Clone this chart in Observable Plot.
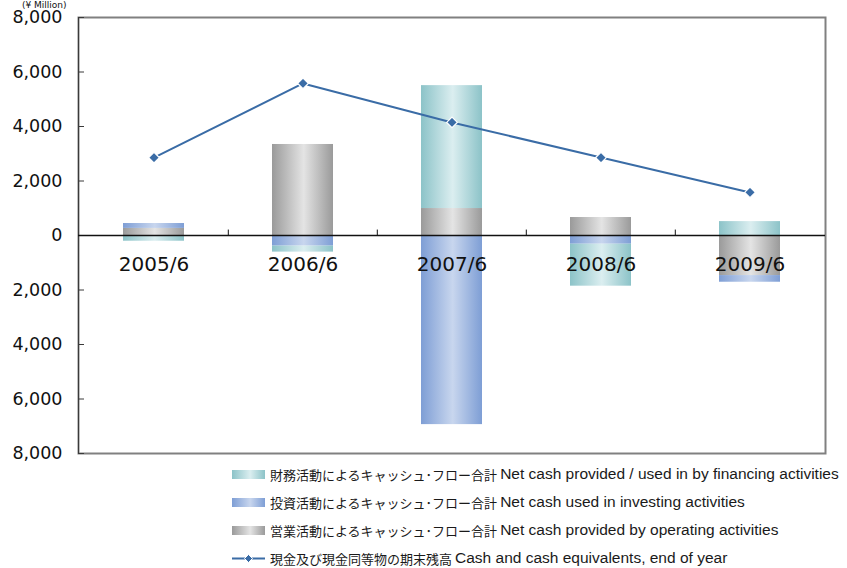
<!DOCTYPE html>
<html>
<head>
<meta charset="utf-8">
<script src="https://cdn.jsdelivr.net/npm/d3@7"></script>
<script src="https://cdn.jsdelivr.net/npm/@observablehq/plot@0.6"></script>
<style>
  body { margin: 0; background: #fff; }
  #chart svg { overflow: visible; display: block; }
  #legend { margin-left: 232px; font-family: "Liberation Sans", "Noto Sans CJK JP", sans-serif; font-size: 15.5px; color: #1a1a1a; }
  .row { height: 28px; display: flex; align-items: center; white-space: nowrap; }
  .sw { width: 33px; height: 9px; margin-right: 5px; flex: none; }
  .sw svg { display: block; }
  .jp { font-family: "Noto Sans CJK JP", sans-serif; font-size: 13px; margin-right: 3px; }
</style>
</head>
<body>
<div id="chart"></div>
<div id="legend"></div>
<script>
// ---- data (¥ Million) ----
const categories = ["2005/6", "2006/6", "2007/6", "2008/6", "2009/6"];
const operating = [260, 3340, 990, 660, -1470];
const investing = [180, -390, -6940, -320, -245];
const financing = [-210, -220, 4510, -1540, 510];
const cashEnd = [2860, 5580, 4150, 2860, 1580];
const yTicks = [-8000, -6000, -4000, -2000, 0, 2000, 4000, 6000, 8000];
const seriesKeys = ["operating", "investing", "financing"];
const seriesLabelsJa = {
  financing: "財務活動によるキャッシュ･フロー合計",
  investing: "投資活動によるキャッシュ･フロー合計",
  operating: "営業活動によるキャッシュ･フロー合計",
  cash: "現金及び現金同等物の期末残高"
};
const seriesLabelsEn = {
  financing: "Net cash provided / used in by financing activities",
  investing: "Net cash used in investing activities",
  operating: "Net cash provided by operating activities",
  cash: "Cash and cash equivalents, end of year"
};
const unitLabel = "(¥ Million)";

const gradColors = {
  financing: ["#8cc3c8", "#dbeef0"],
  investing: ["#7e9ed5", "#c8d6ee"],
  operating: ["#9a9a9a", "#e4e4e4"]
};
const lineColor = "#3a6ca6";

// ---- build tables ----
const flows = [];
categories.forEach((c, i) => {
  flows.push({cat: c, key: "operating", value: operating[i]});
  flows.push({cat: c, key: "investing", value: investing[i]});
  flows.push({cat: c, key: "financing", value: financing[i]});
});
const cash = categories.map((c, i) => ({cat: c, value: cashEnd[i]}));

const W = 847, H = 460, mL = 78, mR = 22;
const step = (W - mL - mR) / categories.length;
const fmt = d3.format(",");

const chart = Plot.plot({
  width: W,
  height: H,
  marginLeft: mL,
  marginRight: mR,
  marginTop: 17,
  marginBottom: 7,
  style: {fontFamily: "DejaVu Sans, sans-serif", fontSize: "17px", background: "white", color: "#111", overflow: "visible"},
  x: {domain: categories, paddingInner: 0.59, paddingOuter: 0.295, axis: null},
  y: {domain: [-8000, 8000], axis: null},
  color: {type: "ordinal", domain: seriesKeys, range: seriesKeys.map(k => `url(#grad-${k})`)},
  marks: [
    Plot.barY(flows, Plot.stackY({x: "cat", y: "value", fill: "key", order: null})),
    Plot.frame({stroke: "#808080", strokeWidth: 2}),
    Plot.frame({anchor: "left", stroke: "#3a3a3a", strokeWidth: 1}),
    Plot.axisY(yTicks, {tickSize: -6, tickPadding: 22, tickFormat: d => fmt(Math.abs(d)), stroke: "#3a3a3a", label: null, fontSize: 17.5}),
    Plot.ruleY([0], {stroke: "#111", strokeWidth: 1.5}),
    Plot.ruleX(categories.slice(1), {x: d => d, y1: 0, y2: 200, dx: -step / 2, stroke: "#111", strokeWidth: 1}),
    Plot.text(categories, {x: d => d, y: 0, dy: 29, text: d => d, fontSize: 20, fill: "#111"}),
    Plot.lineY(cash, {x: "cat", y: "value", stroke: lineColor, strokeWidth: 2}),
    Plot.dot(cash, {x: "cat", y: "value", symbol: "diamond2", r: 4.8, fill: lineColor, stroke: "white", strokeWidth: 1.2}),
    Plot.text([unitLabel], {frameAnchor: "top-left", dx: -12, dy: -10, textAnchor: "end", lineAnchor: "bottom", fontSize: 9, fill: "#111"})
  ]
});

// gradient defs
const ns = "http://www.w3.org/2000/svg";
const defs = document.createElementNS(ns, "defs");
for (const k of seriesKeys) {
  const g = document.createElementNS(ns, "linearGradient");
  g.setAttribute("id", `grad-${k}`);
  g.setAttribute("x1", "0"); g.setAttribute("x2", "1"); g.setAttribute("y1", "0"); g.setAttribute("y2", "0");
  [[0, 0], [0.52, 1], [1, 0]].forEach(([o, c]) => {
    const s = document.createElementNS(ns, "stop");
    s.setAttribute("offset", o);
    s.setAttribute("stop-color", gradColors[k][c]);
    g.appendChild(s);
  });
  defs.appendChild(g);
}
chart.insertBefore(defs, chart.firstChild);
document.getElementById("chart").appendChild(chart);

// legend
const legend = document.getElementById("legend");
function addRow(k, swatch) {
  const row = document.createElement("div");
  row.className = "row";
  row.appendChild(swatch);
  const ja = document.createElement("span");
  ja.className = "jp";
  ja.textContent = seriesLabelsJa[k];
  row.appendChild(ja);
  const en = document.createElement("span");
  en.textContent = seriesLabelsEn[k];
  row.appendChild(en);
  legend.appendChild(row);
}
for (const k of ["financing", "investing", "operating"]) {
  const sw = document.createElement("div");
  sw.className = "sw";
  sw.style.background = `linear-gradient(to right, ${gradColors[k][0]}, ${gradColors[k][1]} 55%, ${gradColors[k][0]})`;
  addRow(k, sw);
}
{
  const sw = document.createElement("div");
  sw.className = "sw";
  sw.innerHTML = `<svg width="33" height="9"><line x1="0" x2="33" y1="4.5" y2="4.5" stroke="${lineColor}" stroke-width="2"/><path d="M16.5 0.5 L20.5 4.5 L16.5 8.5 L12.5 4.5 Z" fill="${lineColor}" stroke="white" stroke-width="1"/></svg>`;
  addRow("cash", sw);
}
</script>
</body>
</html>
